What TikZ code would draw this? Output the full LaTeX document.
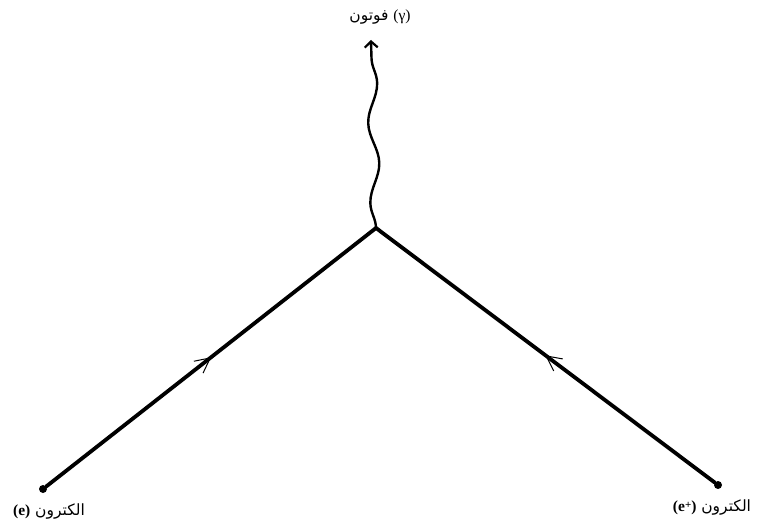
\documentclass[tikz,border=0pt]{standalone}
\usepackage{fontspec}
\newfontfamily\arabicfont[Script=Arabic]{DejaVu Sans}
\newfontfamily\latinfont{Liberation Serif}
\TeXXeTstate=1
\usetikzlibrary{decorations.pathmorphing,decorations.markings,arrows.meta}
\begin{document}
\begin{tikzpicture}[x=1pt,y=-1pt,
  dot/.style={circle,fill=black,inner sep=0pt,minimum size=8pt},
  fermion/.style={line width=3.8pt,line cap=round,
    postaction={decorate,decoration={markings,
      mark=at position 0.5 with {\arrow[line width=1pt]{Straight Barb[length=15pt,width=15pt]}}}}},
  photon/.style={line width=2.4pt,-{Straight Barb[length=6pt,width=13pt,line width=2.2pt]},
    decorate,decoration={snake,segment length=80pt,amplitude=5pt,post length=8pt}},
  lbl/.style={font=\arabicfont\fontsize{15.5}{18}\selectfont,inner sep=1pt}]
\useasboundingbox (0,0) rectangle (771,526);
\node[dot] (e1) at (43,489) {};
\node[dot] (e2) at (718,485) {};
\coordinate (v) at (376,228);
\coordinate (p) at (371,40);
\draw[fermion] (e1) -- (v);
\draw[fermion] (e2) -- (v);
\draw[photon] (v) -- (p);
\node[lbl] (l1) at (49,512) {\beginR الكترون \beginL{\latinfont\bfseries (e)}\endL\endR};
\node[lbl] (l2) at (712,508) {\beginR الكترون \beginL{\latinfont\bfseries (e\raisebox{0.45ex}{\fontsize{11}{11}\selectfont +})}\endL\endR};
\node[lbl] (l3) at (380,17) {\beginR\beginL{\latinfont (γ)}\endL{} فوتون\endR};
\end{tikzpicture}
\end{document}
